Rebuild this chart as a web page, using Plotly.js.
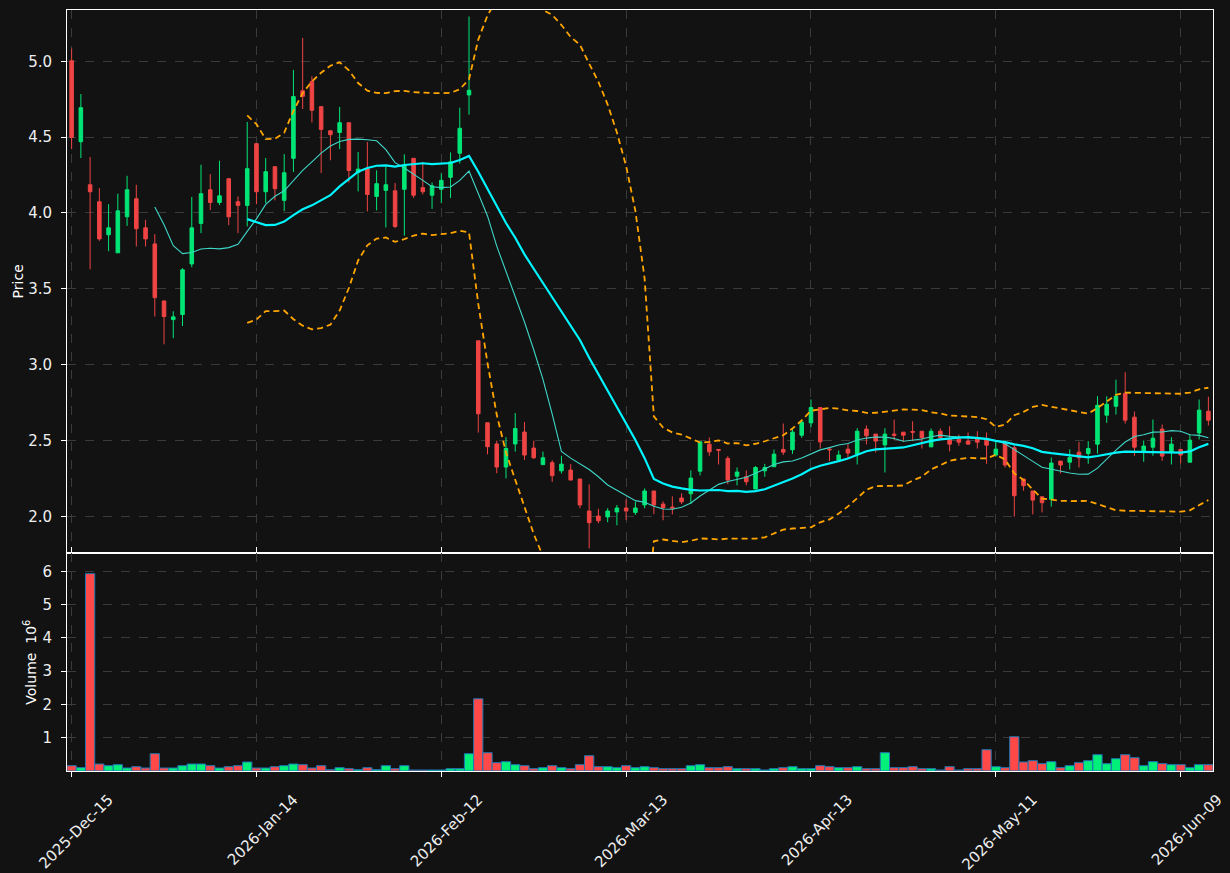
<!DOCTYPE html>
<html><head><meta charset="utf-8">
<script src="https://cdn.plot.ly/plotly-3.0.1.min.js"></script>
<style>html,body{margin:0;padding:0;background:#121212;}</style>
</head><body><div id="chart" style="width:1230px;height:873px;"></div>
<script>
// ---- data ----
const openP = [5.004,4.470,4.186,4.074,3.856,3.737,3.975,4.094,3.902,3.796,
3.420,3.297,3.330,3.664,3.931,4.153,4.069,4.226,4.074,4.050,
4.457,4.140,4.305,4.083,4.360,4.806,4.866,4.701,4.542,4.531,
4.595,4.267,4.292,4.109,4.149,4.146,4.156,4.360,4.167,4.117,
4.156,4.235,4.394,4.778,3.157,2.617,2.477,2.325,2.477,2.556,
2.450,2.341,2.354,2.300,2.305,2.246,2.035,2.002,1.996,2.029,
2.055,2.026,2.075,2.167,2.081,2.061,2.121,2.149,2.298,2.476,
2.441,2.382,2.265,2.261,2.180,2.300,2.327,2.441,2.439,2.535,
2.616,2.717,2.443,2.371,2.443,2.410,2.575,2.542,2.471,2.542,
2.555,2.559,2.561,2.458,2.561,2.509,2.509,2.496,2.511,2.509,
2.404,2.487,2.452,2.246,2.167,2.129,2.112,2.364,2.357,2.423,
2.414,2.476,2.667,2.726,2.811,2.654,2.432,2.456,2.575,2.423,
2.441,2.357,2.550,2.693];
const highP = [5.084,4.784,4.369,4.164,4.058,4.127,4.245,4.186,3.955,3.860,
3.420,3.352,3.636,4.105,4.318,4.256,4.344,4.226,4.109,4.600,
4.457,4.362,4.305,4.388,4.943,5.154,4.901,4.701,4.542,4.699,
4.595,4.402,4.468,4.281,4.303,4.197,4.387,4.360,4.337,4.201,
4.260,4.399,4.694,5.295,3.157,2.617,2.499,2.522,2.681,2.622,
2.499,2.427,2.370,2.399,2.344,2.246,2.211,2.050,2.053,2.075,
2.112,2.096,2.184,2.167,2.099,2.132,2.151,2.303,2.491,2.520,
2.441,2.397,2.322,2.303,2.331,2.346,2.441,2.612,2.577,2.638,
2.770,2.721,2.456,2.434,2.476,2.581,2.599,2.542,2.581,2.638,
2.555,2.627,2.561,2.579,2.579,2.594,2.539,2.553,2.561,2.553,
2.491,2.487,2.469,2.246,2.167,2.129,2.388,2.364,2.441,2.491,
2.496,2.792,2.792,2.901,2.950,2.691,2.500,2.638,2.605,2.522,
2.441,2.539,2.770,2.789];
const lowP = [4.421,4.362,3.629,3.816,3.748,3.737,3.915,3.779,3.779,3.317,
3.134,3.174,3.255,3.642,3.867,4.019,4.052,3.920,3.867,3.911,
4.058,4.065,4.083,4.012,4.270,4.685,4.597,4.263,4.347,4.421,
4.201,4.142,4.010,4.017,3.904,3.900,3.850,4.099,4.122,4.027,
4.065,4.099,4.326,4.648,2.552,2.409,2.284,2.250,2.427,2.372,
2.379,2.341,2.227,2.283,2.239,2.053,1.789,1.954,1.961,1.941,
1.976,2.009,2.053,2.015,1.974,2.013,2.081,2.081,2.270,2.399,
2.342,2.211,2.204,2.204,2.180,2.261,2.327,2.404,2.412,2.518,
2.588,2.447,2.364,2.360,2.379,2.342,2.474,2.421,2.289,2.502,
2.491,2.496,2.447,2.458,2.502,2.428,2.465,2.476,2.447,2.346,
2.393,2.322,1.998,2.169,2.013,2.026,2.064,2.283,2.309,2.322,
2.346,2.414,2.616,2.671,2.612,2.399,2.360,2.399,2.366,2.342,
2.349,2.357,2.507,2.599];
const closeP = [4.498,4.694,4.140,3.829,3.902,4.014,4.153,3.896,3.829,3.442,
3.317,3.315,3.625,3.902,4.127,4.069,4.113,3.975,4.050,4.292,
4.140,4.272,4.160,4.265,4.767,4.769,4.677,4.551,4.516,4.595,
4.280,4.289,4.122,4.193,4.186,3.911,4.315,4.117,4.140,4.179,
4.215,4.337,4.558,4.809,2.676,2.459,2.325,2.447,2.579,2.404,
2.386,2.386,2.268,2.344,2.239,2.075,1.958,1.971,2.035,2.055,
2.035,2.055,2.167,2.075,2.057,2.055,2.096,2.252,2.491,2.425,
2.436,2.239,2.292,2.228,2.322,2.322,2.410,2.423,2.555,2.621,
2.717,2.491,2.439,2.404,2.417,2.561,2.531,2.496,2.542,2.535,
2.535,2.555,2.518,2.561,2.520,2.476,2.489,2.476,2.489,2.469,
2.443,2.338,2.136,2.202,2.107,2.090,2.351,2.338,2.388,2.386,
2.447,2.732,2.739,2.792,2.634,2.456,2.463,2.515,2.397,2.476,
2.404,2.502,2.700,2.634];
const volumeM = [0.16,0.10,5.93,0.21,0.16,0.19,0.09,0.13,0.09,0.52,
0.09,0.09,0.16,0.21,0.21,0.16,0.09,0.13,0.16,0.27,
0.09,0.09,0.13,0.16,0.21,0.19,0.09,0.16,0.04,0.10,
0.07,0.04,0.10,0.04,0.16,0.07,0.16,0.03,0.03,0.03,
0.03,0.07,0.07,0.52,2.17,0.55,0.25,0.28,0.19,0.16,
0.07,0.10,0.16,0.10,0.07,0.19,0.46,0.13,0.13,0.10,
0.16,0.10,0.13,0.10,0.07,0.07,0.07,0.16,0.19,0.10,
0.10,0.13,0.07,0.07,0.07,0.03,0.07,0.10,0.13,0.07,
0.07,0.16,0.13,0.10,0.10,0.13,0.07,0.07,0.55,0.10,
0.10,0.13,0.07,0.07,0.03,0.13,0.03,0.07,0.07,0.64,
0.13,0.10,1.03,0.27,0.31,0.22,0.28,0.10,0.16,0.25,
0.31,0.49,0.22,0.37,0.49,0.40,0.16,0.28,0.22,0.19,
0.19,0.10,0.19,0.19];

// trading calendar (categories)
const startDate = '2025-12-15';
const holidays = ['2025-12-25','2026-01-01','2026-01-19','2026-02-16','2026-04-03','2026-05-25'];
const monthNames = ['Jan','Feb','Mar','Apr','May','Jun','Jul','Aug','Sep','Oct','Nov','Dec'];
const tickEvery = 20;

function tradingDates(start, n, hol) {
  const out = [];
  const d = new Date(start + 'T00:00:00Z');
  while (out.length < n) {
    const s = d.toISOString().slice(0, 10);
    const wd = d.getUTCDay();
    if (wd !== 0 && wd !== 6 && hol.indexOf(s) < 0) out.push(s);
    d.setUTCDate(d.getUTCDate() + 1);
  }
  return out;
}
const dates = tradingDates(startDate, closeP.length, holidays);
function fmt(s) { const p = s.split('-'); return p[0] + '-' + monthNames[+p[1] - 1] + '-' + p[2]; }
const tickVals = dates.filter((d, i) => i % tickEvery === 0);
const tickText = tickVals.map(fmt);

// indicators derived from closes
function sma(a, n) {
  return a.map((v, i) => i < n - 1 ? null : a.slice(i - n + 1, i + 1).reduce((s, x) => s + x, 0) / n);
}
function band(a, n, k) {
  const m = sma(a, n);
  return a.map((v, i) => {
    if (i < n - 1) return null;
    const w = a.slice(i - n + 1, i + 1);
    const sd = Math.sqrt(w.reduce((s, x) => s + (x - m[i]) * (x - m[i]), 0) / n);
    return m[i] + k * sd;
  });
}
const ma10 = sma(closeP, 10);
const ma20 = sma(closeP, 20);
const bbUp = band(closeP, 20, 2);
const bbLo = band(closeP, 20, -2);

const UP = '#00e676', DOWN = '#ef4444';
const volColors = closeP.map((c, i) => c >= openP[i] ? '#00f07a' : '#ff4848');

const traces = [
  {type: 'candlestick', x: dates, open: openP, high: highP, low: lowP, close: closeP,
   xaxis: 'x', yaxis: 'y', whiskerwidth: 0, hoverinfo: 'skip',
   increasing: {line: {color: UP, width: 1}, fillcolor: UP},
   decreasing: {line: {color: DOWN, width: 1}, fillcolor: DOWN}},
  {type: 'scatter', mode: 'lines', x: dates, y: ma10, xaxis: 'x', yaxis: 'y',
   line: {color: '#3fd6c8', width: 1.1}, hoverinfo: 'skip'},
  {type: 'scatter', mode: 'lines', x: dates, y: ma20, xaxis: 'x', yaxis: 'y',
   line: {color: '#00f5ff', width: 2.2}, hoverinfo: 'skip'},
  {type: 'scatter', mode: 'lines', x: dates, y: bbUp, xaxis: 'x', yaxis: 'y',
   line: {color: '#ffa500', width: 1.8, dash: '6px,4px'}, hoverinfo: 'skip'},
  {type: 'scatter', mode: 'lines', x: dates, y: bbLo, xaxis: 'x', yaxis: 'y',
   line: {color: '#ffa500', width: 1.8, dash: '6px,4px'}, hoverinfo: 'skip'},
  {type: 'bar', x: dates, y: volumeM, xaxis: 'x', yaxis: 'y2',
   marker: {color: volColors, line: {color: '#1f77b4', width: 1}}, hoverinfo: 'skip'}
];

const gridCommon = {showgrid: true, gridcolor: '#3a3a3a', griddash: 'dash', gridwidth: 1, zeroline: false,
  showline: true, linecolor: '#ffffff', linewidth: 1, mirror: true,
  ticks: 'outside', tickcolor: '#ffffff', ticklen: 5, tickfont: {size: 15, color: '#eeeeee'}};

const layout = {
  width: 1230, height: 873,
  paper_bgcolor: '#121212', plot_bgcolor: '#121212',
  margin: {l: 67, r: 17, t: 10, b: 102},
  showlegend: false,
  font: {family: 'DejaVu Sans', color: '#ffffff', size: 14},
  boxgap: 0.45, bargap: 0.0,
  xaxis: Object.assign({}, gridCommon, {
    type: 'category', anchor: 'y2', range: [-0.5, dates.length - 0.5],
    tickmode: 'array', tickvals: tickVals, ticktext: tickText, tickangle: -45,
    ticklabelshift: 37, ticklabelstandoff: 8,
    mirror: 'all', rangeslider: {visible: false}, tickfont: {size: 15, color: '#eeeeee'}
  }),
  yaxis: Object.assign({}, gridCommon, {
    domain: [0.287, 1], range: [1.761, 5.338], dtick: 0.5, tick0: 0, tickformat: '.1f',
    ticklabelstandoff: 6,
    title: {text: 'Price', font: {size: 14, color: '#ffffff'}, standoff: 1}
  }),
  yaxis2: Object.assign({}, gridCommon, {
    domain: [0, 0.286], range: [0, 6.54], tickmode: 'array', tickvals: [1, 2, 3, 4, 5, 6],
    ticklabelstandoff: 6,
    title: {text: 'Volume  10<sup>6</sup>', font: {size: 14, color: '#ffffff'}, standoff: 2}
  })
};

Plotly.newPlot('chart', traces, layout, {staticPlot: true, displayModeBar: false});
</script>
</body></html>
